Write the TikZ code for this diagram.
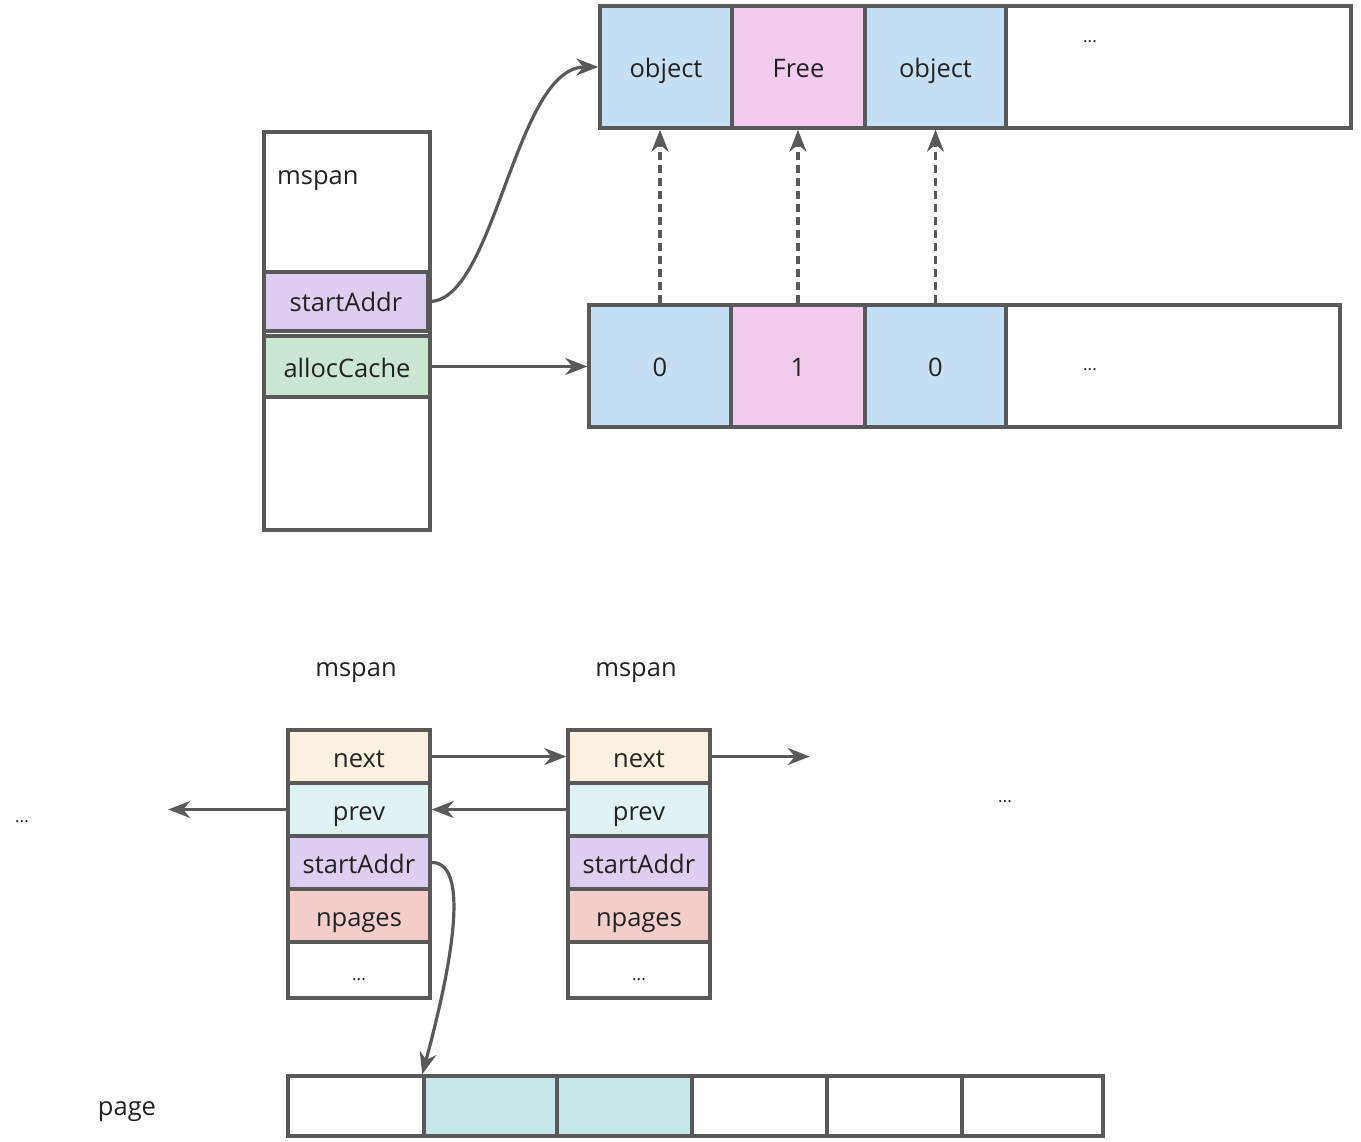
\documentclass[tikz,border=0pt]{standalone}
\usepackage{fontspec}
\setmainfont{Open Sans}
\usetikzlibrary{arrows.meta}
\definecolor{lc}{HTML}{595959}
\definecolor{cblue}{HTML}{C5E0F4}
\definecolor{cpink}{HTML}{F3CBEE}
\definecolor{cpurple}{HTML}{DCCFF2}
\definecolor{cgreen}{HTML}{C9E7D2}
\definecolor{cbeige}{HTML}{FAF1E0}
\definecolor{cprev}{HTML}{E0F3F3}
\definecolor{cred}{HTML}{F4CDCD}
\definecolor{cteal}{HTML}{C5E7E7}
\definecolor{tc}{HTML}{222222}
\tikzset{
  cell/.style={draw=lc, line width=3.5pt, inner sep=0pt, text=tc, text height=26pt, text depth=5pt, font=\fontsize{25.5}{28}\selectfont},
  lbl/.style={inner sep=0pt, text=tc, text height=26pt, text depth=5pt, font=\fontsize{25.5}{28}\selectfont},
  dots/.style={inner sep=0pt, text=tc, font=\fontsize{17}{18}\selectfont},
  arr/.style={draw=lc, line width=3.2pt, -{Stealth[length=22pt,width=17pt]}},
  darr/.style={arr, dash pattern=on 8pt off 5pt}
}
\newcommand{\cellat}[7]{% name, x1, y1, x2, y2, fill, text
  \node[cell, fill=#6, minimum width={#4-#2}, minimum height={#5-#3}] (#1) at ({(#2+#4)/2},{(#3+#5)/2}) {#7};}
\begin{document}
\begin{tikzpicture}[x=1pt,y=-1pt]
\useasboundingbox (0,0) rectangle (1361,1142);
% top object array
\cellat{oall}{600}{6}{1351}{128}{white}{}
\cellat{o0}{600}{6}{732}{128}{cblue}{object}
\cellat{o1}{732}{6}{865}{128}{cpink}{Free}
\cellat{o2}{865}{6}{1006}{128}{cblue}{object}
\node[dots] (od) at (1090,42) {...};
% bitmap array
\cellat{ball}{589}{305}{1340}{427}{white}{}
\cellat{b0}{589}{305}{731}{427}{cblue}{0}
\cellat{b1}{731}{305}{865}{427}{cpink}{1}
\cellat{b2}{865}{305}{1006}{427}{cblue}{0}
\node[dots] (bd) at (1090,370) {...};
% left mspan
\cellat{ms}{264}{132}{430}{530}{white}{}
\node[lbl, anchor=west] (mslbl) at (277,174) {mspan};
\cellat{msa}{264}{272}{428}{331}{cpurple}{startAddr}
\cellat{mac}{264}{336}{430}{397}{cgreen}{allocCache}
% connectors top
\draw[arr] (msa.east) .. controls (495,301) and (515,67) .. (o0.west);
\draw[arr] (mac.east) -- (mac.east -| b0.west);
\draw[darr] (b0.north) -- (b0.north |- o0.south);
\draw[darr] (b1.north) -- (b1.north |- o1.south);
\draw[darr] (b2.north) -- (b2.north |- o2.south);
% bottom mspans
\node[lbl] (m1lbl) at (356,666) {mspan};
\node[lbl] (m2lbl) at (636,666) {mspan};
\cellat{an}{288}{730}{430}{783}{cbeige}{next}
\cellat{ap}{288}{783}{430}{836}{cprev}{prev}
\cellat{as}{288}{836}{430}{889}{cpurple}{startAddr}
\cellat{anp}{288}{889}{430}{942}{cred}{npages}
\cellat{ad}{288}{942}{430}{998}{white}{\fontsize{17}{18}\selectfont ...}
\cellat{bn}{568}{730}{710}{783}{cbeige}{next}
\cellat{bp}{568}{783}{710}{836}{cprev}{prev}
\cellat{bs}{568}{836}{710}{889}{cpurple}{startAddr}
\cellat{bnp}{568}{889}{710}{942}{cred}{npages}
\cellat{bdd}{568}{942}{710}{998}{white}{\fontsize{17}{18}\selectfont ...}
\node[dots] (ld) at (22,822) {...};
\node[dots] (rd) at (1005,802) {...};
\coordinate (nxend) at ([xshift=98pt]bn.east);
\coordinate (pvend) at ([xshift=-118pt]ap.west);
\draw[arr] (an.east) -- (bn.west);
\draw[arr] (bn.east) -- (nxend);
\draw[arr] (bp.west) -- (ap.east);
\draw[arr] (ap.west) -- (pvend);
% page array
\node[lbl] (pglbl) at (127,1105) {page};
\cellat{p0}{288}{1076}{424}{1136}{white}{}
\cellat{p1}{424}{1076}{557}{1136}{cteal}{}
\cellat{p2}{557}{1076}{692}{1136}{cteal}{}
\cellat{p3}{692}{1076}{827}{1136}{white}{}
\cellat{p4}{827}{1076}{962}{1136}{white}{}
\cellat{p5}{962}{1076}{1103}{1136}{white}{}
\draw[arr] (as.east) .. controls (475,862) and (445,990) .. (p1.north west);
\end{tikzpicture}
\end{document}
